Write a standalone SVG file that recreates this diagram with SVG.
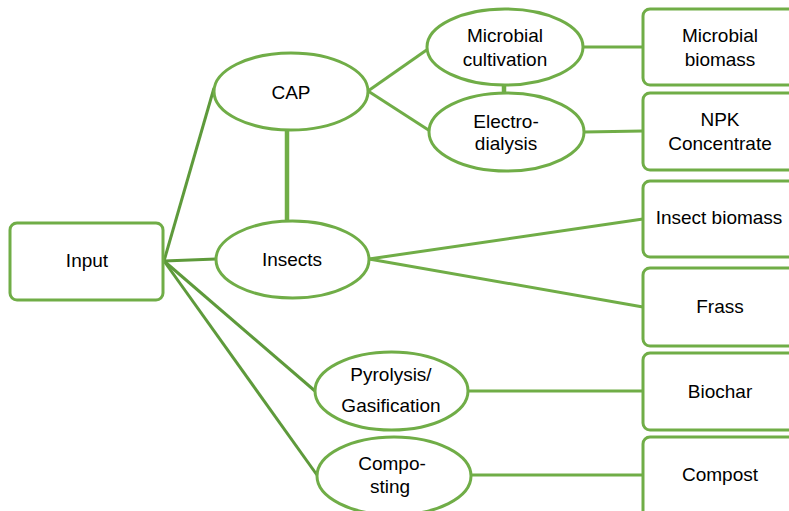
<svg xmlns="http://www.w3.org/2000/svg" width="789" height="511" viewBox="0 0 789 511">
<style>
.n{fill:#fff;stroke:#70AD47;stroke-width:3}
.c line{stroke:#70AD47;stroke-width:3}
.c .d{stroke:#5E9A3B}
.c .t{stroke-width:4.5}
text{font-family:"Liberation Sans",Arial,sans-serif;font-size:19px;fill:#000;text-anchor:middle}
</style>
<rect width="789" height="511" fill="#fff"/>
<g class="c" id="connectors">
<line class="d" x1="164" y1="261" x2="214" y2="88"/>
<line class="d" x1="164" y1="261" x2="216" y2="259"/>
<line class="d" x1="164" y1="261" x2="315" y2="391"/>
<line class="d" x1="164" y1="261" x2="317" y2="475"/>
<line class="t" x1="287" y1="130" x2="287" y2="224"/>
<line class="t" x1="504" y1="84" x2="504" y2="94"/>
<line x1="368" y1="91" x2="428" y2="49"/>
<line x1="368" y1="91" x2="430" y2="131"/>
<line x1="583" y1="47" x2="643" y2="47"/>
<line x1="584" y1="132" x2="643" y2="131"/>
<line x1="369" y1="259" x2="643" y2="219"/>
<line x1="369" y1="259" x2="643" y2="307"/>
<line x1="468" y1="391" x2="643" y2="391"/>
<line x1="471" y1="475" x2="643" y2="475"/>
</g>
<g id="input"><rect class="n" x="10" y="223" width="153" height="77" rx="7"/><text x="87" y="267">Input</text></g>
<g id="cap"><ellipse class="n" cx="291" cy="91.5" rx="77" ry="38.5"/><text x="291" y="99">CAP</text></g>
<g id="insects"><ellipse class="n" cx="292.5" cy="259.5" rx="76.5" ry="38.5"/><text x="292" y="266">Insects</text></g>
<g id="microbial-cultivation"><ellipse class="n" cx="505" cy="47" rx="78" ry="38"/><text x="505" y="42">Microbial</text><text x="505" y="66">cultivation</text></g>
<g id="electrodialysis"><ellipse class="n" cx="506.5" cy="132" rx="77.5" ry="39"/><text x="506" y="128">Electro-</text><text x="506" y="150">dialysis</text></g>
<g id="pyrolysis"><ellipse class="n" cx="391.5" cy="391" rx="76.5" ry="39"/><text x="391" y="381">Pyrolysis/</text><text x="391" y="412">Gasification</text></g>
<g id="composting"><ellipse class="n" cx="394" cy="476" rx="77" ry="39"/><text x="392" y="470">Compo-</text><text x="390" y="493">sting</text></g>
<g id="microbial-biomass"><rect class="n" x="643" y="9" width="160" height="76" rx="7"/><text x="720" y="42">Microbial</text><text x="720" y="66">biomass</text></g>
<g id="npk"><rect class="n" x="643" y="93" width="160" height="77" rx="7"/><text x="720" y="126">NPK</text><text x="720" y="150">Concentrate</text></g>
<g id="insect-biomass"><rect class="n" x="643" y="181" width="160" height="76" rx="7"/><text x="719" y="224">Insect biomass</text></g>
<g id="frass"><rect class="n" x="643" y="268" width="160" height="78" rx="7"/><text x="720" y="313">Frass</text></g>
<g id="biochar"><rect class="n" x="643" y="353" width="160" height="77" rx="7"/><text x="720" y="398">Biochar</text></g>
<g id="compost"><rect class="n" x="643" y="437" width="160" height="90" rx="7"/><text x="720" y="481">Compost</text></g>
</svg>
